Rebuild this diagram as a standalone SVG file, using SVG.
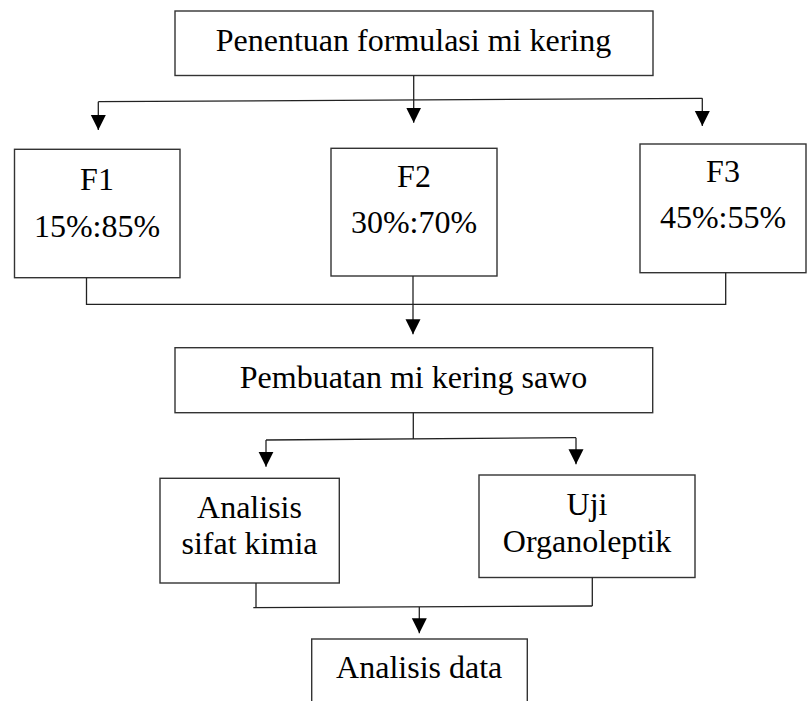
<svg xmlns="http://www.w3.org/2000/svg" width="807" height="701" viewBox="0 0 807 701">
<defs>
<marker id="arr" markerUnits="userSpaceOnUse" markerWidth="16" markerHeight="16" refX="15" refY="7.5" orient="auto">
<path d="M0,0 L15,7.5 L0,15 z" fill="#000"/>
</marker>
</defs>
<style>
.box{fill:#fff;stroke:#333;stroke-width:1.4}
.t{font-family:"Liberation Serif","Times New Roman",serif;font-size:32px;fill:#000;text-anchor:middle}
.c{fill:none;stroke:#222;stroke-width:1.3}
.a{marker-end:url(#arr)}
</style>
<rect width="807" height="701" fill="#fff"/>
<g id="n-top">
<rect class="box" x="175" y="11" width="478" height="64.5"/>
<text class="t" x="413.5" y="51">Penentuan formulasi mi kering</text>
</g>
<g id="n-f1">
<rect class="box" x="14.5" y="149.3" width="165.5" height="128.4"/>
<text class="t" x="97" y="190">F1</text>
<text class="t" x="97" y="236.7">15%:85%</text>
</g>
<g id="n-f2">
<rect class="box" x="331" y="148.3" width="166" height="127.7"/>
<text class="t" x="414" y="186.7">F2</text>
<text class="t" x="414" y="233.3">30%:70%</text>
</g>
<g id="n-f3">
<rect class="box" x="640" y="144" width="166" height="128.7"/>
<text class="t" x="723" y="181.7">F3</text>
<text class="t" x="723" y="228.3">45%:55%</text>
</g>
<g id="n-pembuatan">
<rect class="box" x="175" y="347.7" width="477.7" height="65"/>
<text class="t" x="413.5" y="388">Pembuatan mi kering sawo</text>
</g>
<g id="n-kimia">
<rect class="box" x="160" y="478.3" width="179.3" height="104.7"/>
<text class="t" x="249.5" y="518.3">Analisis</text>
<text class="t" x="249.5" y="554">sifat kimia</text>
</g>
<g id="n-uji">
<rect class="box" x="479" y="475" width="216" height="102.5"/>
<text class="t" x="587" y="515">Uji</text>
<text class="t" x="587" y="551.7">Organoleptik</text>
</g>
<g id="n-data">
<rect class="box" x="311.7" y="639" width="215.6" height="75"/>
<text class="t" x="419.2" y="678.3">Analisis data</text>
</g>
<g id="connectors">
<line class="c a" x1="413.7" y1="75.5" x2="413.7" y2="122.7"/>
<line class="c" x1="98.3" y1="101.7" x2="702.3" y2="98.3"/>
<line class="c a" x1="98.3" y1="101.7" x2="98.3" y2="130"/>
<line class="c a" x1="702.3" y1="98.3" x2="702.3" y2="126"/>
<polyline class="c" points="86.5,277.7 86.5,304.3 725.7,304.3 725.7,272.7"/>
<line class="c a" x1="413" y1="276" x2="413" y2="334.3"/>
<line class="c" x1="413.3" y1="412.7" x2="413.3" y2="439"/>
<line class="c" x1="266" y1="440" x2="576" y2="437.7"/>
<line class="c a" x1="266" y1="440" x2="266" y2="466.7"/>
<line class="c a" x1="576" y1="437.7" x2="576" y2="464.3"/>
<polyline class="c" points="256,583 256,607.7"/>
<line class="c" x1="253.3" y1="607.7" x2="592.3" y2="606"/>
<line class="c" x1="592.3" y1="577.5" x2="592.3" y2="606"/>
<line class="c a" x1="419.3" y1="607" x2="419.3" y2="633.3"/>
</g>
</svg>
